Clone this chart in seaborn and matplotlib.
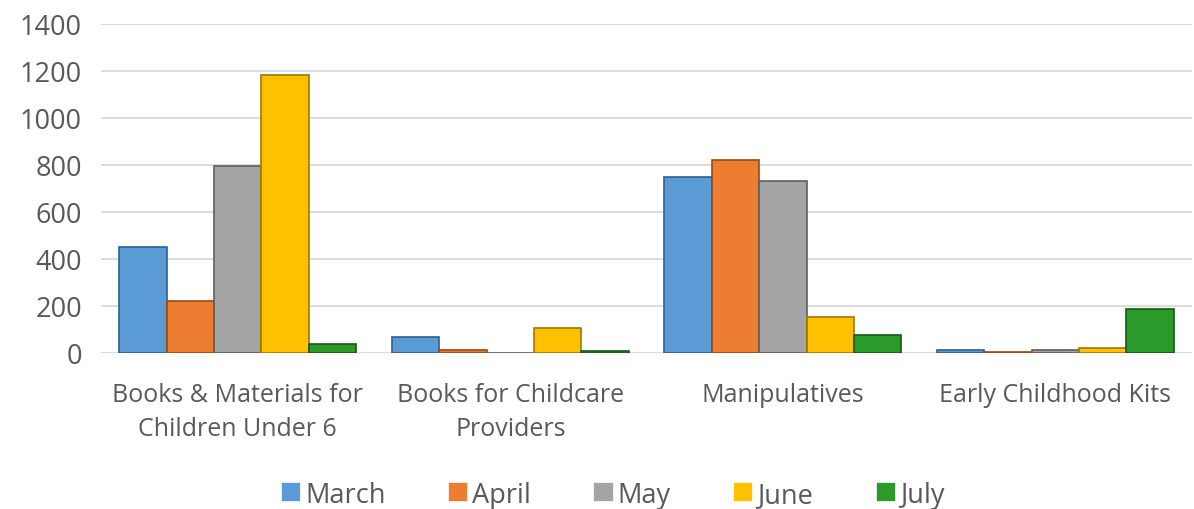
import matplotlib
matplotlib.use("Agg")
import matplotlib.pyplot as plt
import seaborn as sns
import pandas as pd

categories = ["Books & Materials for\nChildren Under 6", "Books for Childcare\nProviders",
              "Manipulatives", "Early Childhood Kits"]
months = ["March", "April", "May", "June", "July"]
march = [450, 68, 750, 14]
april = [220, 14, 820, 3]
may = [795, 0, 730, 12]
june = [1185, 105, 155, 20]
july = [38, 8, 78, 188]
yticks = [0, 200, 400, 600, 800, 1000, 1200, 1400]

colors = ["#5B9BD5", "#ED7D31", "#A5A5A5", "#FFC000", "#2A9A2A"]
edges = ["#2F5F8F", "#9A4A12", "#5E5E5E", "#A07800", "#145A14"]

rows = []
for m, vals in zip(months, [march, april, may, june, july]):
    for c, v in zip(categories, vals):
        rows.append({"Category": c, "Month": m, "Value": v})
df = pd.DataFrame(rows)

sns.set_theme(style="white")
plt.rcParams['font.family'] = ['Open Sans', 'DejaVu Sans']

fig = plt.figure(figsize=(11.94, 5.10), dpi=100)
ax = fig.add_axes([0.085, 0.306, 0.913, 0.645])
sns.barplot(data=df, x="Category", y="Value", hue="Month", hue_order=months,
            order=categories, palette=colors, width=0.87, ax=ax, gap=0,
            linewidth=1.2, saturation=1, legend=True)

for i, cont in enumerate(ax.containers):
    for p in cont:
        p.set_edgecolor(edges[i])

ax.set_ylim(0, 1400)
ax.set_yticks(yticks)
ax.set_xlim(-0.5, 3.5)
ax.yaxis.grid(True, color="#D9D9D9", linewidth=1.3)
ax.set_axisbelow(True)
for s in ax.spines.values():
    s.set_visible(False)
ax.set_xlabel("")
ax.set_ylabel("")
ax.tick_params(axis="y", labelsize=19.5, colors="#595959", length=0, pad=14)
ax.tick_params(axis="x", labelsize=18, colors="#595959", length=0, pad=21)
for lab in ax.get_xticklabels():
    lab.set_linespacing(1.45)

handles, labels = ax.get_legend_handles_labels()
ax.get_legend().remove()
leg = fig.legend(handles, labels, loc="center", bbox_to_anchor=(0.513, 0.028), ncol=5,
                 frameon=False, fontsize=19.5, handlelength=0.75, handleheight=0.75,
                 handletextpad=0.15, columnspacing=2.3, labelcolor="#595959")

fig.savefig("out.png", dpi=100)
